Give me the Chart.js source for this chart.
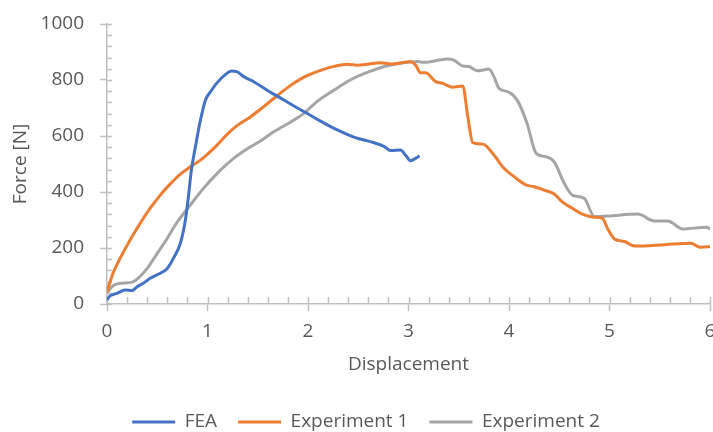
<!DOCTYPE html>
<html>
<head>
<meta charset="utf-8">
<script src="https://cdn.jsdelivr.net/npm/chart.js@4"></script>
<style>
  html, body { margin: 0; padding: 0; background: #fff; overflow: hidden; }
  #wrap { width: 713px; height: 432px; }
</style>
</head>
<body>
<div id="wrap"><canvas id="chart" width="713" height="432"></canvas></div>
<script>
// --- data ---
const feaX = [0, 0.03, 0.1, 0.18, 0.25, 0.3, 0.36, 0.43, 0.53, 0.6, 0.66, 0.73, 0.78, 0.81, 0.84, 0.88, 0.93, 0.98, 1.03, 1.09, 1.18, 1.24, 1.29, 1.36, 1.46, 1.59, 1.72, 1.86, 1.99, 2.12, 2.26, 2.39, 2.49, 2.62, 2.76, 2.82, 2.92, 2.97, 3.02, 3.07, 3.11];
const feaY = [14, 29, 38, 50, 48, 62, 74, 92, 110, 127, 163, 217, 300, 383, 479, 562, 657, 729, 758, 788, 820, 832, 830, 812, 794, 764, 737, 707, 681, 654, 627, 606, 592, 580, 562, 548, 550, 532, 512, 520, 529];

const exp1X = [0, 0.06, 0.13, 0.23, 0.33, 0.43, 0.53, 0.63, 0.73, 0.83, 0.93, 0.99, 1.08, 1.19, 1.29, 1.43, 1.56, 1.69, 1.82, 1.96, 2.09, 2.22, 2.39, 2.49, 2.59, 2.72, 2.82, 3.02, 3.07, 3.12, 3.17, 3.27, 3.34, 3.44, 3.54, 3.59, 3.64, 3.74, 3.85, 3.95, 4.05, 4.17, 4.25, 4.35, 4.45, 4.53, 4.63, 4.73, 4.85, 4.93, 4.98, 5.05, 5.15, 5.25, 5.55, 5.81, 5.9, 6.03];
const exp1Y = [44, 110, 163, 229, 288, 342, 389, 429, 464, 490, 514, 532, 562, 604, 636, 669, 705, 743, 779, 810, 830, 845, 856, 853, 856, 862, 857, 865, 854, 826, 826, 794, 788, 774, 779, 669, 576, 571, 532, 485, 455, 425, 419, 407, 393, 365, 342, 321, 310, 306, 270, 232, 223, 207, 212, 217, 203, 205];

const exp2X = [0, 0.06, 0.13, 0.25, 0.31, 0.4, 0.5, 0.6, 0.69, 0.83, 0.96, 1.09, 1.26, 1.43, 1.53, 1.66, 1.86, 1.96, 2.09, 2.26, 2.42, 2.59, 2.76, 2.92, 3.09, 3.15, 3.39, 3.45, 3.54, 3.6, 3.69, 3.8, 3.85, 3.9, 3.99, 4.08, 4.18, 4.27, 4.37, 4.45, 4.55, 4.63, 4.75, 4.85, 4.98, 5.28, 5.45, 5.58, 5.73, 5.96, 6.03];
const exp2Y = [40, 65, 74, 78, 92, 127, 181, 235, 288, 354, 413, 464, 520, 562, 583, 615, 657, 681, 723, 764, 800, 827, 848, 860, 866, 863, 875, 871, 850, 848, 833, 839, 812, 770, 758, 729, 645, 538, 526, 508, 431, 389, 377, 312, 314, 321, 296, 296, 268, 274, 262];

const seriesNames = ['FEA', 'Experiment 1', 'Experiment 2'];
const seriesColors = ['#4472C4', '#ED7D31', '#A5A5A5'];

const xTitle = 'Displacement';
const yTitle = 'Force [N]';

// --- helpers ---
function toPoints(xs, ys) {
    return xs.map((x, i) => ({ x: x, y: ys[i] }));
}

const TEXT = '#595959';
const AXIS = '#BFBFBF';
const FONT = { family: "'Open Sans', sans-serif", size: 19 };

// minor ticks drawn inside the plot (Excel style)
const minorTicks = {
    id: 'minorTicks',
    beforeDatasetsDraw(chart) {
        const ctx = chart.ctx;
        const xs = chart.scales.x, ys = chart.scales.y;
        const area = chart.chartArea;
        ctx.save();
        ctx.strokeStyle = AXIS;
        ctx.lineWidth = 1.5;
        ctx.beginPath();
        for (let v = 0; v <= 6.0001; v += 0.2) {
            const px = Math.round(xs.getPixelForValue(v)) + 0.5;
            ctx.moveTo(px, area.bottom);
            ctx.lineTo(px, area.bottom - 7);
        }
        for (let v = 0; v <= 1000; v += 40) {
            const py = Math.round(ys.getPixelForValue(v)) + 0.5;
            ctx.moveTo(area.left, py);
            ctx.lineTo(area.left + 5, py);
        }
        ctx.stroke();
        ctx.restore();
    }
};

const ctx = document.getElementById('chart').getContext('2d');
const chart = new Chart(ctx, {
    type: 'line',
    data: {
        datasets: [
            { label: seriesNames[0], data: toPoints(feaX, feaY) },
            { label: seriesNames[1], data: toPoints(exp1X, exp1Y) },
            { label: seriesNames[2], data: toPoints(exp2X, exp2Y) }
        ].map((d, i) => Object.assign(d, {
            borderColor: seriesColors[i],
            backgroundColor: seriesColors[i],
            pointBorderColor: seriesColors[i],
            pointBackgroundColor: seriesColors[i],
            pointBorderWidth: 3,
            borderWidth: 3,
            pointRadius: 0,
            tension: 0.3,
            cubicInterpolationMode: 'monotone',
            fill: false
        }))
    },
    options: {
        responsive: false,
        animation: false,
        layout: { padding: { left: 22, top: 24, right: 3, bottom: -9.5 } },
        plugins: {
            tooltip: { enabled: false },
            legend: {
                position: 'bottom',
                labels: {
                    usePointStyle: true,
                    pointStyle: 'line',
                    pointStyleWidth: 43,
                    padding: 21,
                    color: TEXT,
                    font: FONT
                }
            }
        },
        scales: {
            x: {
                type: 'linear',
                min: 0,
                max: 6,
                ticks: { stepSize: 1, color: TEXT, font: FONT, padding: 9, maxRotation: 0, callback: v => String(v) },
                grid: { drawOnChartArea: false, tickLength: 7, tickColor: AXIS, tickWidth: 1.5 },
                border: { color: AXIS, width: 1.5 },
                title: { display: true, text: xTitle, color: TEXT, font: FONT, padding: { top: 0, bottom: 16 } },
                afterFit(scale) {
                    scale.height = 87.5;
                    scale.paddingLeft = 0;
                    scale.paddingRight = 0;
                }
            },
            y: {
                min: 0,
                max: 1000,
                ticks: { stepSize: 200, color: TEXT, font: FONT, padding: 16, callback: v => String(v) },
                grid: { drawOnChartArea: false, tickLength: 7, tickColor: AXIS, tickWidth: 1.5 },
                border: { color: AXIS, width: 1.5 },
                title: { display: true, text: yTitle, color: TEXT, font: FONT, padding: { top: -13, bottom: 0 } },
                afterFit(scale) {
                    scale.width = 85;
                    scale.paddingTop = 0;
                    scale.paddingBottom = 0;
                }
            }
        }
    },
    plugins: [minorTicks]
});
</script>
</body>
</html>
